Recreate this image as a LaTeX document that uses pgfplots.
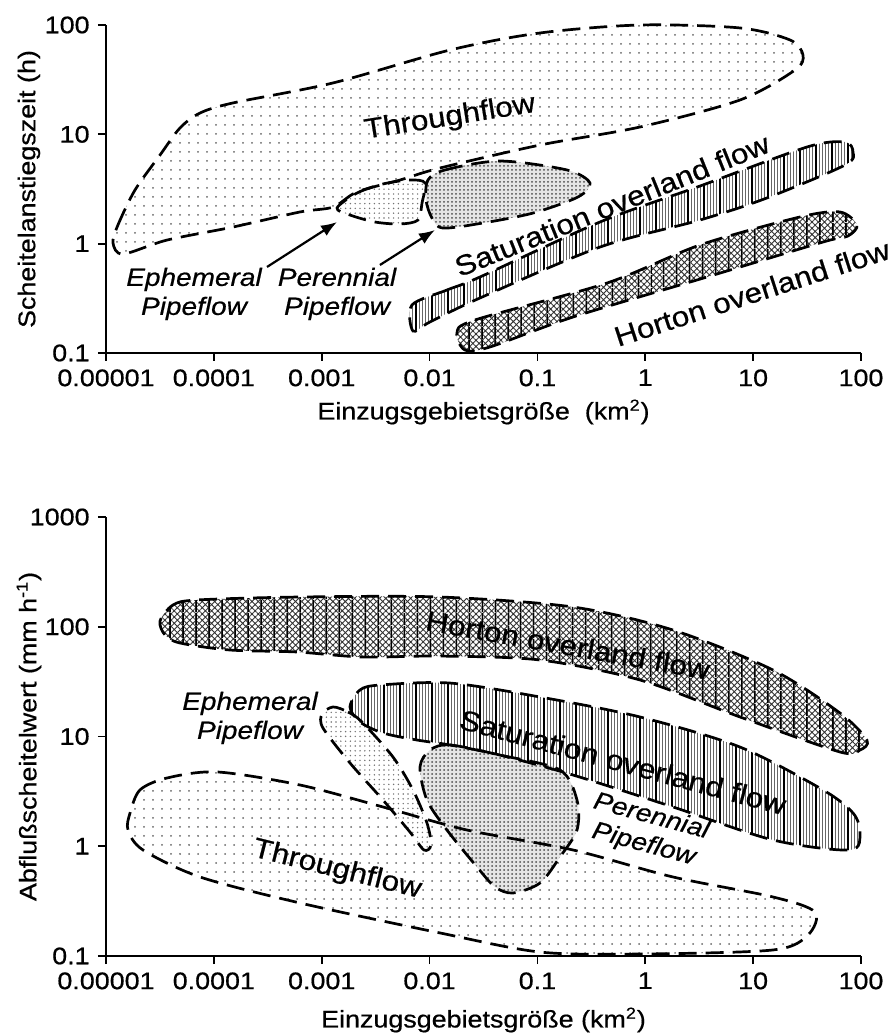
\documentclass[border=0pt]{standalone}
\usepackage{fontspec}
\setmainfont{Liberation Sans}[FakeStretch=1.12, FakeBold=0.6]
\usepackage{pgfplots}
\usepackage{pgfplotstable}
\pgfplotsset{compat=1.18}
\usetikzlibrary{patterns.meta,arrows.meta}

% ---------- top panel (log10 units) ----------
\pgfplotstableread{
x y
-4.935 0.006
-4.889 0.171
-4.731 0.491
-4.499 0.811
-4.314 1.058
-4.128 1.195
-3.823 1.287
-2.895 1.470
-1.811 1.771
-0.976 1.927
-0.049 2.000
0.878 1.973
1.342 1.863
1.462 1.726
1.388 1.588
0.878 1.314
-0.049 1.067
-0.976 0.902
-1.903 0.692
-2.274 0.582
-2.673 0.473
-2.895 0.335
-3.201 0.290
-3.823 0.152
-4.434 0.033
-4.842 -0.095
}\tTopThrough
\pgfplotstableread{
x y
-2.858 0.326
-2.673 0.463
-2.432 0.546
-2.182 0.582
-2.042 0.555
-2.070 0.372
-2.107 0.216
-2.274 0.180
-2.506 0.198
-2.738 0.262
}\tTopEph
\pgfplotstableread{
x y
-2.015 0.582
-1.857 0.674
-1.347 0.756
-0.726 0.674
-0.513 0.555
-0.624 0.427
-1.041 0.280
-1.505 0.189
-1.876 0.143
-1.978 0.235
-2.033 0.399
}\tTopPer
\pgfplotstableread{
x y
-2.163 -0.561
-1.839 -0.424
-1.533 -0.305
-0.420 0.198
0.507 0.527
1.499 0.884
1.851 0.930
1.926 0.838
1.851 0.719
1.128 0.418
0.507 0.216
-0.420 -0.031
-1.533 -0.497
-1.996 -0.716
-2.154 -0.799
}\tTopSat
\pgfplotstableread{
x y
-1.746 -0.817
-1.579 -0.698
-0.355 -0.360
0.507 -0.012
1.434 0.244
1.805 0.290
1.963 0.171
1.879 0.070
1.648 0.015
0.572 -0.305
-0.670 -0.671
-1.440 -0.945
-1.672 -0.973
}\tTopHor

% ---------- bottom panel (log10 units) ----------
\pgfplotstableread{
x y
-4.777 0.303
-4.685 0.513
-4.434 0.622
-3.971 0.677
-3.201 0.558
-2.432 0.358
-1.653 0.148
-0.670 -0.034
0.257 -0.280
1.184 -0.462
1.573 -0.599
1.508 -0.809
1.184 -0.945
-0.049 -0.982
-0.976 -0.964
-1.903 -0.790
-3.201 -0.517
-4.128 -0.280
-4.657 -0.034
-4.796 0.148
}\tBotThrough
\pgfplotstableread{
x y
-2.895 1.269
-2.756 1.223
-2.627 1.132
-2.339 0.813
-2.154 0.513
-2.024 0.212
-1.987 0.011
-2.052 -0.034
-2.182 0.130
-2.432 0.421
-2.738 0.759
-2.988 1.077
-2.997 1.205
}\tBotEph
\pgfplotstableread{
x y
-1.996 0.877
-1.811 0.923
-1.347 0.831
-0.791 0.695
-0.633 0.421
-0.633 0.148
-0.791 -0.098
-0.976 -0.335
-1.227 -0.426
-1.393 -0.371
-1.560 -0.189
-1.839 0.148
-2.024 0.421
-2.089 0.722
}\tBotPer
\pgfplotstableread{
x y
-2.738 1.269
-2.645 1.424
-2.460 1.469
-1.811 1.487
-0.976 1.360
-0.049 1.178
0.878 0.904
1.648 0.513
1.926 0.303
1.991 0.121
1.898 -0.034
1.184 0.057
0.257 0.358
-0.670 0.649
-1.347 0.831
-1.811 0.923
-2.117 0.968
-2.432 1.032
-2.645 1.132
}\tBotSat
\pgfplotstableread{
x y
-4.499 2.052
-4.379 2.198
-4.156 2.244
-3.201 2.271
-1.903 2.271
-0.670 2.180
0.257 1.970
1.184 1.606
1.805 1.214
2.055 0.968
1.991 0.877
1.805 0.859
0.878 1.178
-0.049 1.515
-0.976 1.697
-1.903 1.733
-2.617 1.724
-3.229 1.770
-3.850 1.788
-4.314 1.852
-4.453 1.925
}\tBotHor

\pgfplotsset{
  panel/.style={
    scale only axis, width=377.5pt,
    xmin=-5, xmax=2,
    axis lines=left,
    axis line style={-, line width=0.9pt},
    tick style={line width=0.9pt, black},
    tick align=outside,
    major tick length=4pt,
    xtick={-5,-4,-3,-2,-1,0,1,2},
    xticklabels={0.00001,0.0001,0.001,0.01,0.1,1,10,100},
    clip=false,
    every axis x label/.style={at={([yshift=-29.5pt]axis description cs:0.5,0)}, anchor=center},
    every axis y label/.style={at={([xshift=-38.5pt]axis description cs:0,0.5)}, anchor=center, rotate=90},
  },
  fillr/.style={smooth cycle, draw=none, forget plot},
  border/.style={smooth cycle, line width=1.35pt, dash pattern=on 9pt off 4.5pt, black, fill=none, forget plot},
  pThrough/.style={fillr, pattern={Dots[distance=4.5pt, radius=0.5pt]}, pattern color=black!60},
  pEph/.style={fillr, pattern={Dots[distance=2.4pt, radius=0.4pt]}, pattern color=black!55},
  pPer/.style={fillr, pattern={Dots[distance=2pt, radius=0.5pt]}, pattern color=black!70},
  pSatA/.style={fillr, pattern={Lines[angle=90, distance=1.6pt, line width=0.35pt]}, pattern color=black!60},
  pSatB/.style={fillr, pattern={Lines[angle=90, distance=8pt, line width=0.9pt]}, pattern color=black},
  pHorA/.style={fillr, pattern={Hatch[angle=45, distance=2.2pt, line width=0.45pt]}, pattern color=black!80},
  pHorB/.style={fillr, pattern={Lines[angle=90, distance=6.5pt, line width=0.9pt]}, pattern color=black},
}
\tikzset{
  rlabel/.style={font=\fontsize{14}{16}\selectfont, inner sep=1pt},
  plabel/.style={font=\fontsize{12.5}{14.5}\selectfont\itshape, align=center, inner sep=1pt},
}

\begin{document}
\fontsize{12}{14}\selectfont
\begin{tikzpicture}
\path[use as bounding box] (0,0) rectangle (446.5pt,517pt);

% ================= TOP PANEL =================
\begin{axis}[panel, at={(53pt,340.5pt)}, anchor=south west, height=164pt,
  ymin=-1, ymax=2, ytick={-1,0,1,2}, yticklabels={0.1,1,10,100},
  xlabel={Einzugsgebietsgröße\ \ (km\textsuperscript{2})},
  ylabel={Scheitelanstiegszeit (h)}]
  \addplot[pThrough] table {\tTopThrough};
  \addplot[fillr, fill=white] table {\tTopEph};
  \addplot[pEph] table {\tTopEph};
  \addplot[fillr, fill=black!10] table {\tTopPer};
  \addplot[pPer] table {\tTopPer};
  \addplot[pSatA] table {\tTopSat};
  \addplot[pSatB] table {\tTopSat};
  \addplot[pHorA] table {\tTopHor};
  \addplot[pHorB] table {\tTopHor};
  \addplot[border] table {\tTopThrough};
  \addplot[border] table {\tTopEph};
  \addplot[border] table {\tTopPer};
  \addplot[border] table {\tTopSat};
  \addplot[border] table {\tTopHor};
  \draw[-{Latex[length=8pt,width=6pt]}, line width=1.1pt] (axis cs:-3.507,-0.213) -- (axis cs:-2.858,0.198);
  \draw[-{Latex[length=8pt,width=6pt]}, line width=1.1pt] (axis cs:-2.460,-0.195) -- (axis cs:-1.950,0.125);
  \node[rlabel, rotate=9] at (axis cs:-1.811,1.149) {Throughflow};
  \node[rlabel, rotate=22] at (axis cs:-0.309,0.354) {Saturation overland flow};
  \node[rlabel, rotate=18] at (axis cs:0.989,-0.451) {Horton overland flow};
  \node[plabel] at (axis cs:-4.184,-0.460) {Ephemeral\\Pipeflow};
  \node[plabel] at (axis cs:-2.858,-0.460) {Perennial\\Pipeflow};
\end{axis}

% ================= BOTTOM PANEL =================
\begin{axis}[panel, at={(53pt,39pt)}, anchor=south west, height=219.5pt,
  ymin=-1, ymax=3, ytick={-1,0,1,2,3}, yticklabels={0.1,1,10,100,1000},
  every axis x label/.style={at={([yshift=-32pt]axis description cs:0.5,0)}, anchor=center},
  xlabel={Einzugsgebietsgröße (km\textsuperscript{2})},
  ylabel={Abflußscheitelwert (mm h\textsuperscript{-1})}]
  \addplot[pThrough] table {\tBotThrough};
  \addplot[fillr, fill=white] table {\tBotEph};
  \addplot[pEph] table {\tBotEph};
  \addplot[fillr, fill=white] table {\tBotPer};
  \addplot[fillr, fill=black!10] table {\tBotPer};
  \addplot[pPer] table {\tBotPer};
  \addplot[pSatA] table {\tBotSat};
  \addplot[pSatB] table {\tBotSat};
  \addplot[pHorA] table {\tBotHor};
  \addplot[pHorB] table {\tBotHor};
  \addplot[border] table {\tBotThrough};
  \addplot[border] table {\tBotEph};
  \addplot[border] table {\tBotPer};
  \addplot[border] table {\tBotSat};
  \addplot[border] table {\tBotHor};
  \node[rlabel, rotate=-10] at (axis cs:-0.717,1.834) {Horton overland flow};
  \node[rlabel, rotate=-15] at (axis cs:-0.207,0.768) {Saturation overland flow};
  \node[rlabel, rotate=-14] at (axis cs:-2.858,-0.216) {Throughflow};
  \node[plabel] at (axis cs:-3.665,1.169) {Ephemeral\\Pipeflow};
  \node[plabel, rotate=-15] at (axis cs:0.02,0.14) {Perennial\\Pipeflow};
\end{axis}
\end{tikzpicture}
\end{document}
